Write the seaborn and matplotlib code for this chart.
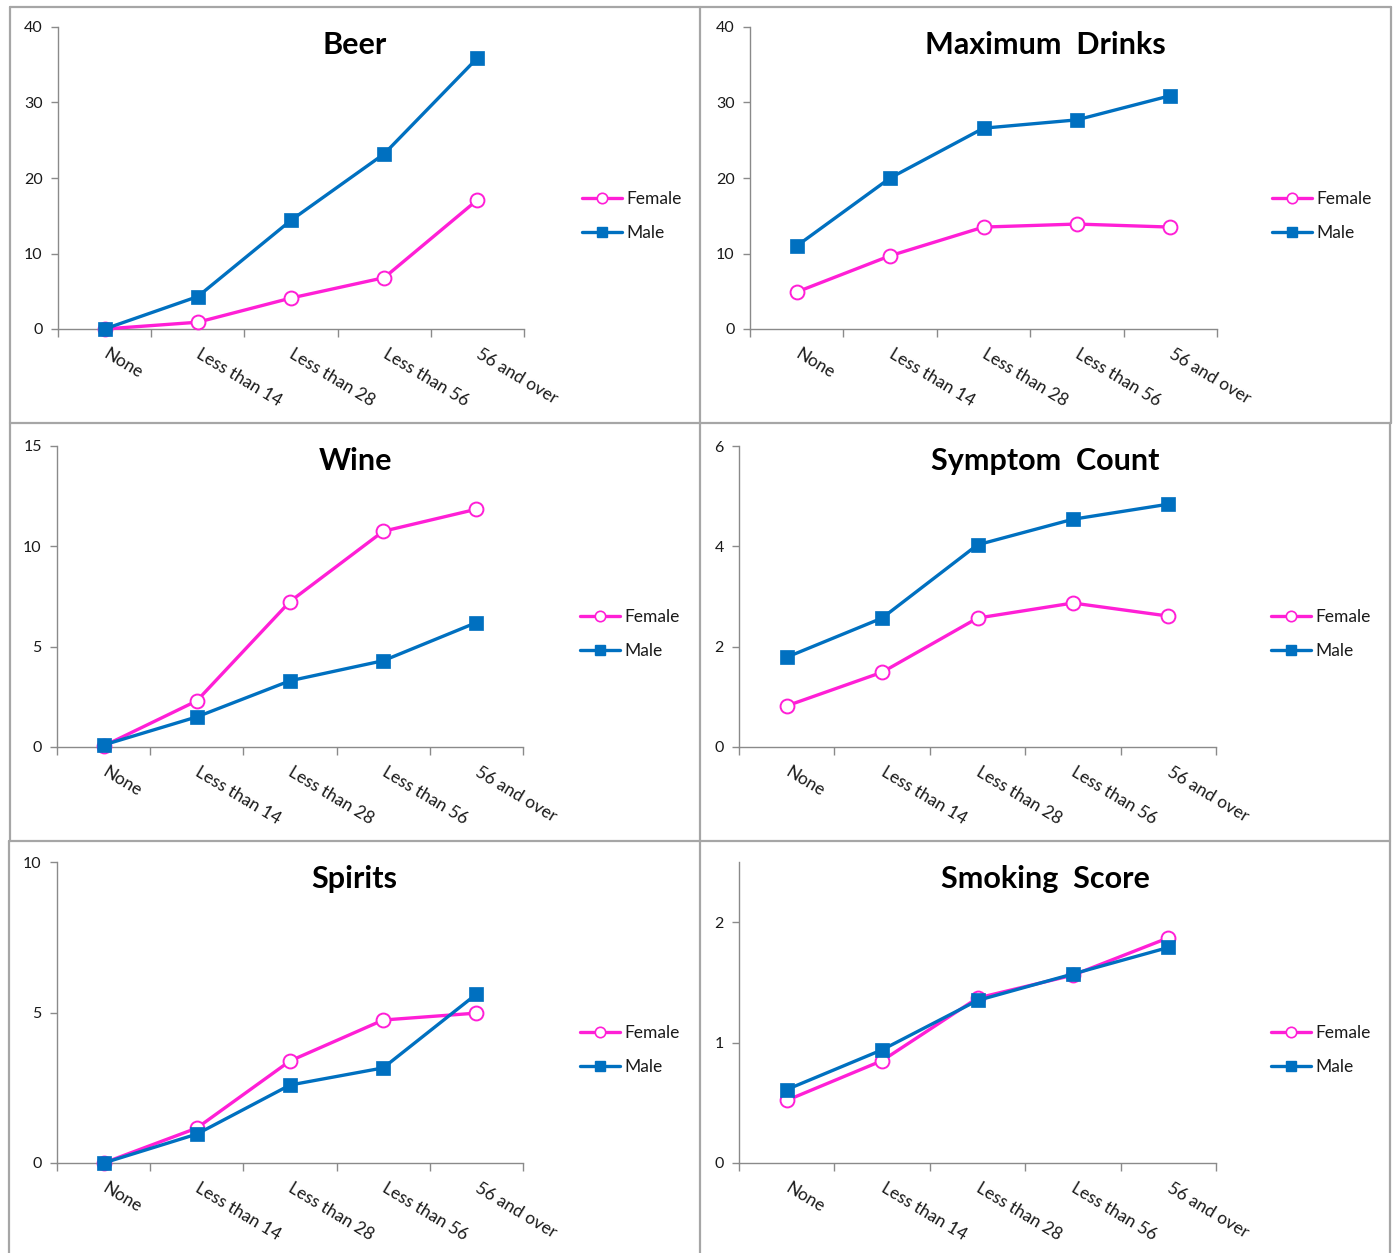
import numpy as np
import pandas as pd
import seaborn as sns
import matplotlib
matplotlib.use("Agg")
import matplotlib.pyplot as plt
from matplotlib.lines import Line2D

# ---- data -------------------------------------------------------------
categories = ["None", "Less than 14", "Less than 28", "Less than 56", "56 and over"]
series_names = ["Female", "Male"]

beer_female = [0.0, 0.9, 4.1, 6.8, 17.1]
beer_male = [0.0, 4.3, 14.4, 23.2, 35.9]

maxdrinks_female = [4.9, 9.7, 13.5, 13.9, 13.5]
maxdrinks_male = [11.0, 20.0, 26.6, 27.7, 30.9]

wine_female = [0.05, 2.3, 7.25, 10.75, 11.85]
wine_male = [0.1, 1.5, 3.3, 4.3, 6.2]

symptom_female = [0.82, 1.49, 2.57, 2.87, 2.61]
symptom_male = [1.79, 2.57, 4.03, 4.54, 4.84]

spirits_female = [0.0, 1.16, 3.39, 4.75, 4.98]
spirits_male = [0.0, 0.96, 2.59, 3.16, 5.61]

smoking_female = [0.52, 0.85, 1.37, 1.56, 1.87]
smoking_male = [0.61, 0.94, 1.35, 1.57, 1.79]

panel_titles = ["Beer", "Maximum  Drinks", "Wine", "Symptom  Count", "Spirits", "Smoking  Score"]
female_values = [beer_female, maxdrinks_female, wine_female, symptom_female, spirits_female, smoking_female]
male_values = [beer_male, maxdrinks_male, wine_male, symptom_male, spirits_male, smoking_male]
y_max = [40, 40, 15, 6, 10, 2.5]
y_ticks = [[0, 10, 20, 30, 40], [0, 10, 20, 30, 40], [0, 5, 10, 15], [0, 2, 4, 6], [0, 5, 10], [0, 1, 2]]

# ---- styling ----------------------------------------------------------
FEMALE = "#FF1FD6"
MALE = "#0070C0"
AXIS_GREY = "#8A8A8A"
BORDER_GREY = "#A6A6A6"
TEXT = "#1A1A1A"

sns.set_theme(style="white")
plt.rcParams["font.family"] = ["Lato", "DejaVu Sans"]

W, H = 1396, 1253
fig = plt.figure(figsize=(W / 100, H / 100), dpi=100)
fig.patch.set_facecolor("white")


def fx(px):
    return px / W


def fy(py):
    return 1 - py / H


# plot-area boxes in pixels: left, right, top, bottom
boxes = [
    (58, 524, 27, 329),
    (750, 1217, 27, 329),
    (57, 523, 446, 747),
    (739, 1216, 446, 747),
    (57, 523, 862, 1163),
    (739, 1216, 862, 1163),
]
# panel frames in pixels: left, right, top, bottom
panels = [
    (10, 700, 7, 423),
    (700, 1391, 7, 423),
    (10, 700, 423, 841),
    (700, 1390, 423, 841),
    (9, 700, 841, 1253),
    (700, 1390, 841, 1253),
]
legend_x = [582, 1272, 580, 1271, 580, 1271]
legend_y = [216, 216, 634, 634, 1050, 1050]

for i in range(6):
    l, r, t, b = boxes[i]
    ax = fig.add_axes([fx(l), fy(b), fx(r - l), (b - t) / H])
    ax.set_facecolor("none")

    sns.lineplot(x=categories, y=female_values[i], ax=ax, color=FEMALE,
                 linewidth=2.4, marker="o", markersize=10,
                 markerfacecolor="white", markeredgecolor=FEMALE,
                 markeredgewidth=1.4, sort=False, clip_on=False, zorder=3)
    sns.lineplot(x=categories, y=male_values[i], ax=ax, color=MALE,
                 linewidth=2.4, marker="s", markersize=10.5,
                 markerfacecolor=MALE, markeredgecolor=MALE,
                 markeredgewidth=0.5, sort=False, clip_on=False, zorder=4)

    ax.set_xlim(-0.5, len(categories) - 0.5)
    ax.set_ylim(0, y_max[i])
    ax.set_yticks(y_ticks[i])
    ax.set_yticklabels([f"{v:g}" for v in y_ticks[i]], fontsize=11.5, color=TEXT)
    ax.set_xticks(range(len(categories)))
    ax.set_xticklabels(categories, fontsize=12.5, color=TEXT, rotation=-31,
                       ha="left", va="center", rotation_mode="anchor")
    ax.set_xticks(np.arange(-0.5, len(categories), 1.0), minor=True)
    ax.tick_params(axis="x", which="major", length=0, pad=17)
    ax.tick_params(axis="x", which="minor", length=6, width=1.0,
                   color=AXIS_GREY, direction="out", bottom=True)
    ax.tick_params(axis="y", which="major", length=5, width=1.0,
                   color=AXIS_GREY, direction="out", left=True, pad=6)
    ax.set_xlabel("")
    ax.set_ylabel("")
    ax.grid(False)
    for side in ("top", "right"):
        ax.spines[side].set_visible(False)
    for side in ("left", "bottom"):
        ax.spines[side].set_color(AXIS_GREY)
        ax.spines[side].set_linewidth(1.0)
        ax.spines[side].set_zorder(1)

    pl, pr, pt, pb = panels[i]
    fig.text(fx((pl + pr) / 2), fy(pt + 38), panel_titles[i], ha="center",
             va="center", fontsize=22, fontweight="bold", color="black")

    handles = [
        Line2D([], [], color=FEMALE, linewidth=2.4, marker="o", markersize=7.5,
               markerfacecolor="white", markeredgecolor=FEMALE, markeredgewidth=1.2),
        Line2D([], [], color=MALE, linewidth=2.4, marker="s", markersize=7.5,
               markerfacecolor=MALE, markeredgecolor=MALE),
    ]
    ax.legend(handles, series_names, loc="center left",
              bbox_to_anchor=(fx(legend_x[i]), fy(legend_y[i])),
              bbox_transform=fig.transFigure, frameon=False, fontsize=12.5,
              handlelength=2.3, handletextpad=0.25, labelspacing=1.05,
              borderpad=0, borderaxespad=0, labelcolor=TEXT)

# panel frames
frame_lines = [
    ((10, 1391), (7, 7)),
    ((10, 10), (7, 841)),
    ((9, 9), (841, 1253)),
    ((700, 700), (7, 1253)),
    ((1391, 1391), (7, 423)),
    ((1390, 1390), (423, 1253)),
    ((10, 1391), (423, 423)),
    ((9, 1390), (841, 841)),
]
for xs, ys in frame_lines:
    fig.add_artist(Line2D([fx(x) for x in xs], [fy(y) for y in ys],
                          color=BORDER_GREY, linewidth=1.6,
                          transform=fig.transFigure))

fig.savefig("out.png", dpi=100)
